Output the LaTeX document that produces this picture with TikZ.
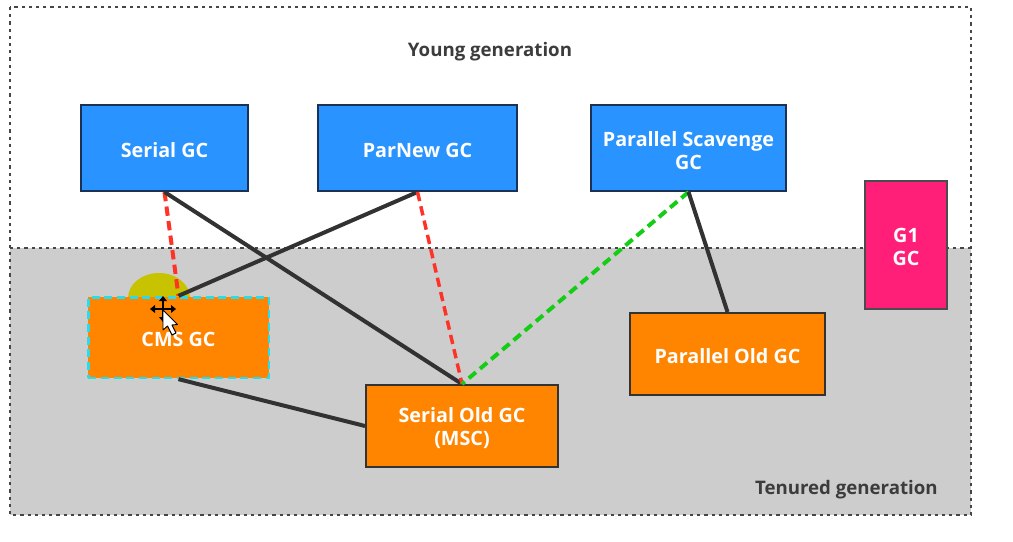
\documentclass[tikz,border=0pt]{standalone}
\usepackage{fontspec}
\setmainfont{Open Sans}[BoldFont={Open Sans Bold}]
\newcommand{\lowertext}[1]{\raisebox{-1.7pt}[\height][\depth]{#1}}
\begin{document}
\begin{tikzpicture}[x=0.75pt,y=-0.75pt,
  gcbox/.style={draw=#1,line width=1.5pt,anchor=center,inner sep=0pt,align=center,text=white,font=\fontsize{14.8}{17.5}\selectfont\bfseries},
  bluebox/.style={gcbox=navyC,fill=blueC},
  orangebox/.style={gcbox=black!80,fill=orangeC},
  solidlink/.style={draw=darkC,line width=3pt},
  redlink/.style={draw=redC,line width=3pt,dash pattern=on 7pt off 4pt},
  greenlink/.style={draw=greenC,line width=3pt,dash pattern=on 7pt off 4pt},
  genlabel/.style={text=textC,font=\fontsize{14}{15}\selectfont\bfseries,inner sep=0pt},
  frameline/.style={draw=frameC,line width=1.6pt,dash pattern=on 2.4pt off 3pt}
]
\definecolor{blueC}{RGB}{41,148,255}
\definecolor{navyC}{RGB}{25,50,85}
\definecolor{orangeC}{RGB}{255,133,0}
\definecolor{pinkC}{RGB}{255,30,120}
\definecolor{darkC}{RGB}{50,50,50}
\definecolor{redC}{RGB}{255,50,40}
\definecolor{greenC}{RGB}{20,205,20}
\definecolor{textC}{RGB}{60,60,60}
\definecolor{frameC}{RGB}{70,70,70}
\definecolor{grayC}{RGB}{205,205,205}
\definecolor{cyanC}{RGB}{40,220,235}
\definecolor{yellowC}{RGB}{200,195,0}
\useasboundingbox (0,0) rectangle (1013,542);
\fill[white] (0,0) rectangle (1013,542);
\fill[grayC] (10,248) rectangle (971,515);
\draw[frameline] (10,7) rectangle (971,515);
\draw[frameline] (10,248) -- (971,248);
\node[genlabel] (young) at (490,52) {Young generation};
\node[genlabel,anchor=east] (tenured) at (938,490) {Tenured generation};
% highlight behind CMS
\fill[yellowC] (128,298) arc[start angle=180,end angle=360,x radius=31,y radius=25] -- cycle;
% boxes
\node[bluebox,minimum width=125.5pt,minimum height=64.5pt] (serial) at (164.5,148) {\lowertext{Serial GC}};
\node[bluebox,minimum width=149pt,minimum height=64.5pt] (parnew) at (417.5,148) {\lowertext{ParNew GC}};
\node[bluebox,minimum width=146pt,minimum height=64.5pt] (scav) at (688.5,148) {\lowertext{Parallel Scavenge}\\\lowertext{GC}};
\node[gcbox=black!70,fill=pinkC,minimum width=61.5pt,minimum height=96pt] (g1) at (906,245) {\lowertext{G1}\\\lowertext{GC}};
\node[gcbox=cyanC,line width=2pt,fill=orangeC,dash pattern=on 6pt off 3.5pt,minimum width=135.5pt,minimum height=60.5pt] (cms) at (178.5,337.5) {\lowertext{CMS GC}};
\node[orangebox,minimum width=146pt,minimum height=61.5pt] (palold) at (727.5,354) {\lowertext{Parallel Old GC}};
\node[orangebox,minimum width=144pt,minimum height=61.5pt] (serold) at (462,426) {\lowertext{Serial Old GC}\\\lowertext{(MSC)}};
% connectors
\draw[redlink] (serial.south) -- (cms.north);
\draw[solidlink] (serial.south) -- (serold.north);
\draw[solidlink] (parnew.south) -- (cms.north);
\draw[redlink,line width=2.6pt] (parnew.south) -- (serold.north);
\draw[greenlink] (scav.south) -- (serold.north);
\draw[solidlink] (scav.south) -- (palold.north);
\draw[solidlink] (cms.south) -- (serold.west);
% mouse cursor
\fill[black] (163,296) -- (167,301) -- (159,301) -- cycle;
\fill[black] (163,322) -- (167,317) -- (159,317) -- cycle;
\fill[black] (150,309) -- (155,305) -- (155,313) -- cycle;
\fill[black] (176,309) -- (171,305) -- (171,313) -- cycle;
\draw[black,line width=1pt] (163,299) -- (163,319) (154,309) -- (172,309);
\draw[black,line width=0.7pt,fill=white,line join=round] (163,310) -- (163,330) -- (167.5,326) -- (172,335) -- (176,333) -- (172,325) -- (177.5,324.5) -- cycle;
\end{tikzpicture}
\end{document}
